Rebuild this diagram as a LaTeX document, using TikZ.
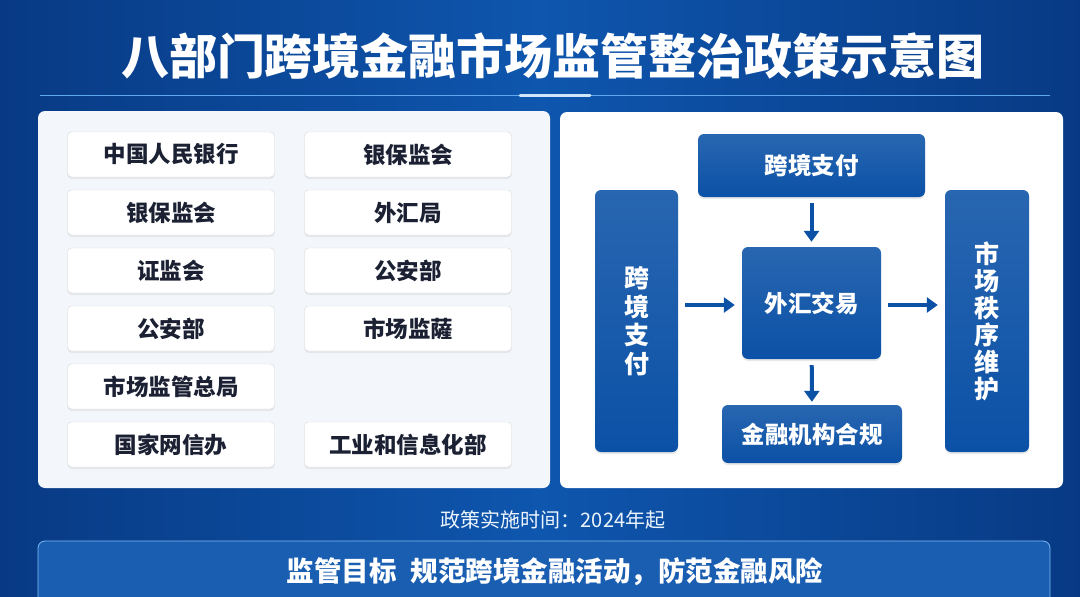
\documentclass[tikz,border=0pt]{standalone}
\usepackage{fontspec}
\setmainfont{Noto Sans CJK SC}
\usetikzlibrary{arrows.meta,shadows}
\definecolor{bgdark}{HTML}{083A84}
\definecolor{bgmid}{HTML}{0E56AE}
\definecolor{panelbg}{HTML}{F3F6FB}
\definecolor{boxblue}{HTML}{0B51A6}
\definecolor{inkdark}{HTML}{1B2133}
\definecolor{glow}{HTML}{5FA8F0}
\tikzset{
  panel/.style={fill=panelbg, rounded corners=7pt, inner sep=0pt},
  dept/.style={draw=black!15, fill=white, rounded corners=4pt, inner sep=0pt,
    minimum width=207pt, minimum height=45pt, text=inkdark,
    font=\fontsize{22.5}{24}\selectfont\bfseries,
    drop shadow={opacity=0.12, shadow xshift=0pt, shadow yshift=-2pt}},
  flow/.style={top color=boxblue!88!white, bottom color=boxblue, draw=none,
    rounded corners=6pt, inner sep=0pt, text=white, align=center,
    font=\fontsize{23.5}{27}\selectfont\bfseries,
    drop shadow={opacity=0.18, shadow xshift=0pt, shadow yshift=-2pt}},
  flowarrow/.style={-{Triangle[length=11pt,width=15pt]}, line width=4pt, boxblue},
}
\begin{document}
\begin{tikzpicture}[x=1pt,y=-1pt]
  \useasboundingbox (0,0) rectangle (1080,597);
  % 背景
  \shade[left color=bgdark, right color=bgdark, middle color=bgmid] (0,0) rectangle (1080,597);
  % 标题
  \node[text=white, font=\fontsize{48}{50}\selectfont\bfseries] (title) at (553,56) {八部门跨境金融市场监管整治政策示意图};
  \draw[glow, line width=1pt] (40,95) -- (1050,95);
  \draw[white!70!glow, line width=3pt, line cap=round] (520,95) -- (590,95);
  % 两个面板
  \node[panel, minimum width=512pt, minimum height=377pt] (leftpanel) at (294,299.5) {};
  \node[panel, fill=white, minimum width=503pt, minimum height=376pt] (rightpanel) at (811.5,300) {};
  % 八部门
  \node[dept] (pboc)  at (171,154.5) {中国人民银行};
  \node[dept] (cbrc)  at (171,212.5) {银保监会};
  \node[dept] (csrc)  at (171,270.5) {证监会};
  \node[dept] (mps)   at (171,328.5) {公安部};
  \node[dept] (samr)  at (171,386.5) {市场监管总局};
  \node[dept] (cac)   at (171,444.5) {国家网信办};
  \node[dept] (cbrcb) at (408,154.5) {银保监会};
  \node[dept] (safe)  at (408,212.5) {外汇局};
  \node[dept] (mpsb)  at (408,270.5) {公安部};
  \node[dept] (samrb) at (408,328.5) {市场监薩};
  \node[dept] (miit)  at (408,444.5) {工业和信息化部};
  % 流程
  \node[flow, minimum width=227pt, minimum height=63pt] (paytop) at (811.5,165.5) {跨境支付};
  \node[flow, minimum width=83pt, minimum height=262pt, font=\fontsize{25}{28.5}\selectfont\bfseries] (payside) at (636.5,321) {跨\\境\\支\\付};
  \node[flow, minimum width=139pt, minimum height=112pt] (fx) at (811.5,303) {外汇交易};
  \node[flow, minimum width=180pt, minimum height=58pt] (comply) at (812,434) {金融机构合规};
  \node[flow, minimum width=84pt, minimum height=262pt, font=\fontsize{25}{27}\selectfont\bfseries] (order) at (987,321) {市\\场\\秩\\序\\维\\护};
  \draw[flowarrow, shorten <=6pt, shorten >=5pt] (paytop) -- (fx);
  \draw[flowarrow, shorten <=6pt, shorten >=3pt] (fx) -- (comply);
  \draw[flowarrow, shorten <=7pt, shorten >=7pt] (payside.east |- 0,305) -- (fx.west |- 0,305);
  \draw[flowarrow, shorten <=7pt, shorten >=7pt] (fx.east |- 0,305) -- (order.west |- 0,305);
  % 时间与目标
  \node[text=white!88!glow, font=\fontsize{20}{22}\selectfont] (time) at (553,520) {政策实施时间：2024年起};
  \node[draw=glow!80, line width=0.8pt, fill=bgmid!95!white, rounded corners=7pt,
    minimum width=1012pt, minimum height=64pt, inner sep=0pt] (goalbar) at (544,573) {};
  \node[text=white, font=\fontsize{27.5}{29}\selectfont\bfseries] (goal) at (555,572) {监管目标\enspace 规范跨境金融活动，防范金融风险};
\end{tikzpicture}
\end{document}
